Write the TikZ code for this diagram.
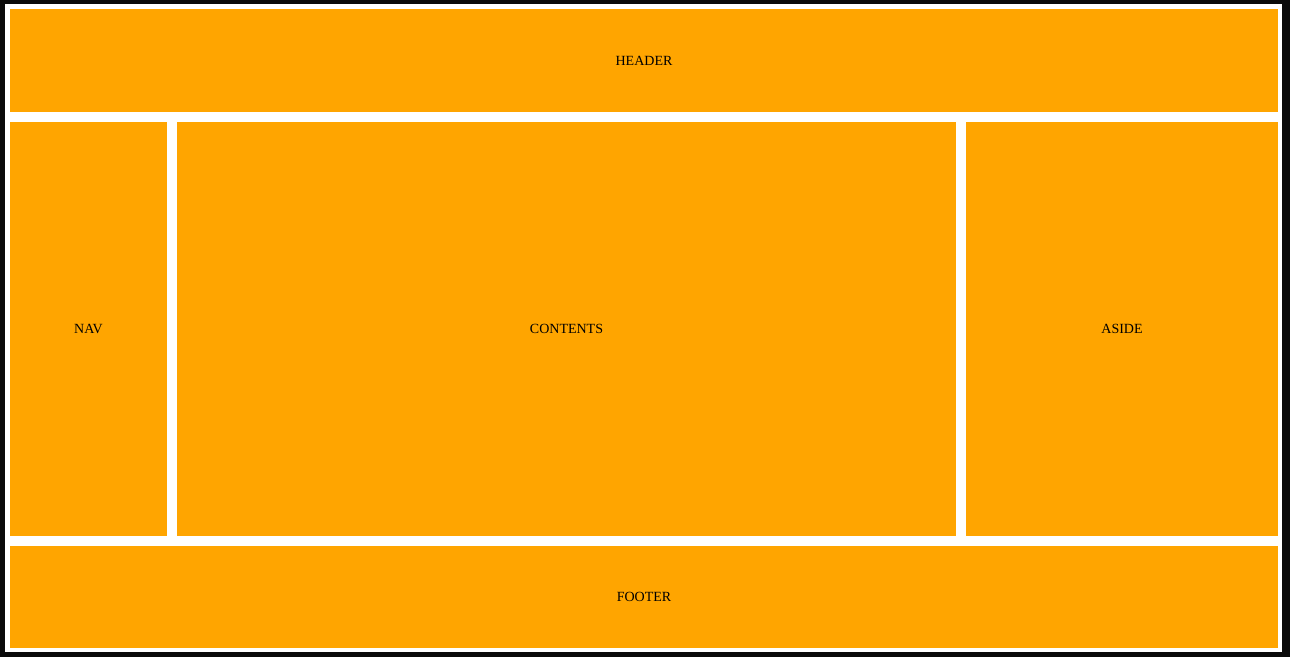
\documentclass[tikz,border=0pt]{standalone}
\usepackage{fontspec}
\setmainfont{Liberation Serif}
\definecolor{bg}{HTML}{0A0A0A}
\definecolor{cell}{HTML}{FFA500}
\tikzset{
  cellbox/.style={fill=cell, draw=none, inner sep=0pt, outer sep=0pt, anchor=north west,
    font=\fontsize{14}{16}\selectfont, text=black},
}
\begin{document}
\begin{tikzpicture}[x=1pt, y=-1pt]
  \fill[bg] (0,0) rectangle (1290,657);
  \useasboundingbox (0,0) rectangle (1290,657);
  \fill[white] (5,4) rectangle (1282,652);
  \node[cellbox, minimum width=1268pt, minimum height=103pt] (header) at (10,9) {HEADER};
  \node[cellbox, minimum width=157pt, minimum height=414pt] (nav) at (10,122) {NAV};
  \node[cellbox, minimum width=779pt, minimum height=414pt] (contents) at (177,122) {CONTENTS};
  \node[cellbox, minimum width=312pt, minimum height=414pt] (aside) at (966,122) {ASIDE};
  \node[cellbox, minimum width=1268pt, minimum height=102pt] (footer) at (10,546) {FOOTER};
\end{tikzpicture}
\end{document}
